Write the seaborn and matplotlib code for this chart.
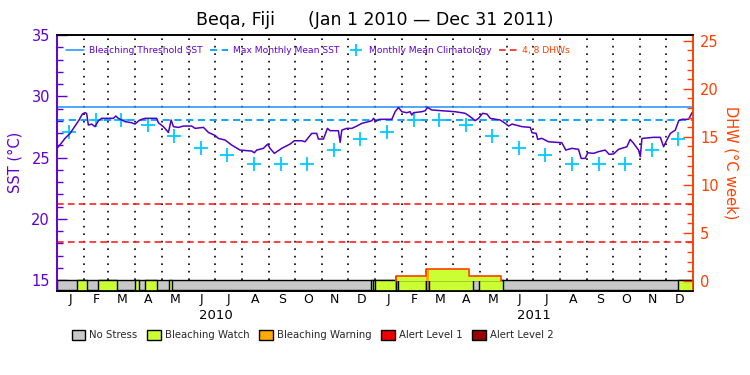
import numpy as np
import pandas as pd
import matplotlib
matplotlib.use("Agg")
import matplotlib.pyplot as plt
import matplotlib.patches as mpatches
from matplotlib.lines import Line2D
import seaborn as sns

# SST trace (days since 2010-01-01, deg C)
sst_days = [0, 1.5, 5.4, 9.2, 15, 20.7, 25.3, 29.1, 32.1, 34, 36, 39.8, 43.6, 47.5, 51.3,
            64.7, 67.4, 70.4, 78.1, 85.7, 89.5, 93.4, 97.2, 101, 114.4, 116.4, 122.1, 127.9,
            131, 133.7, 139.4, 145.2, 154.7, 158.5, 168.1, 173.8, 181.5, 185.2, 192.9, 200.5,
            210.1, 223.5, 226.5, 229.2, 236.9, 241.9, 244.5, 249.5, 257.9, 267.5, 272.4,
            280.9, 284.7, 292.4, 298.1, 300, 305.8, 310.4, 313.5, 323, 325, 326.9, 332.6,
            338.4, 344.1, 349.9, 357.6, 361.4, 363.3, 366, 369.8, 372.8, 384.3, 388.1, 391.9,
            395.8, 401.5, 405.3, 407.2, 409.2, 418.8, 422.6, 425.2, 430.2, 441.7, 457, 468.5,
            474.3, 480, 483.9, 488.5, 493.5, 497.3, 508.8, 514.5, 518.4, 522.2, 533.7, 543.2,
            545.2, 550, 551.8, 556.4, 564.1, 579.4, 584, 590.9, 598.6, 601.6, 606.2, 609.3,
            615.8, 621.5, 629.2, 633.8, 638.8, 644.5, 654.1, 657.9, 661.8, 667.5, 669.5,
            671.4, 684.8, 692.5, 696.3, 699, 704, 709.7, 713.6, 717.4, 725, 728.9, 730]
sst_vals = [25.75, 25.88, 26.21, 26.57, 26.97, 27.57, 28.06, 28.55, 28.66, 28.6, 27.65, 27.73,
            27.52, 28.0, 28.2, 28.2, 28.39, 28.2, 27.93, 27.84, 27.73, 27.98, 28.12, 28.2,
            28.2, 27.84, 27.52, 27.05, 28.06, 27.52, 27.46, 27.57, 27.57, 27.38, 27.46, 27.05,
            26.8, 26.56, 26.43, 26.02, 25.61, 25.53, 25.39, 25.61, 25.75, 26.1, 25.75, 25.34,
            25.75, 26.1, 26.37, 26.37, 26.29, 26.97, 26.97, 26.51, 26.51, 27.38, 27.19, 27.19,
            26.24, 27.24, 27.38, 27.38, 27.57, 27.79, 27.93, 28.01, 28.2, 27.95, 28.12, 28.12,
            28.12, 28.74, 29.09, 28.74, 28.66, 28.74, 28.47, 28.66, 28.74, 28.82, 29.09, 28.88,
            28.82, 28.74, 28.61, 28.33, 28.01, 28.2, 28.61, 28.55, 28.2, 28.06, 27.79, 27.57,
            27.73, 27.52, 27.46, 27.03, 26.97, 26.48, 26.57, 26.29, 26.21, 25.61, 25.75, 25.67,
            24.93, 24.93, 25.39, 25.34, 25.48, 25.61, 25.26, 25.29, 25.67, 25.88, 26.48, 26.16,
            25.61, 25.07, 26.56, 26.65, 26.65, 25.88, 26.29, 26.97, 27.24, 28.01, 28.12, 28.12,
            28.66, 28.66]

# monthly mean climatology, Jan..Dec
clim_vals = [27.1, 28.05, 28.05, 27.65, 26.75, 25.75, 25.2, 24.5, 24.5, 24.5, 25.65, 26.5]
mmm = 28.1
threshold = 29.1
dhw_levels = [4, 8]

# daily stress level bar: start/end day, level (1 = watch, 2 = warning)
stress_start = [23.3, 47.4, 89.9, 101, 128.9, 360.5, 365.5, 389.2, 391.8, 423.7, 427.1, 484.2, 712.6]
stress_end = [34.1, 69.2, 94.5, 115.2, 132.4, 363.2, 389.2, 391.8, 423.7, 427.1, 477.2, 511.7, 730]
stress_level = [1, 1, 1, 1, 1, 1, 1, 1, 1, 2, 1, 1, 1]

# degree heating weeks steps
dhw_start = [389.2, 423.7, 473.4]
dhw_end = [423.7, 473.4, 509.4]
dhw_vals = [0.5, 1.2, 0.5]

month_labels = list("JFMAMJJASOND")
year_labels = ["2010", "2011"]
stress_names = ["No Stress", "Bleaching Watch", "Bleaching Warning", "Alert Level 1", "Alert Level 2"]
stress_colors = ["#c8c8c8", "#ccff33", "#ffaa00", "#ee0000", "#990000"]

purple = "#6000d0"
orange = "#ff4000"

sns.set_theme(style="white")
plt.rcParams["font.family"] = ["DejaVu Sans"]

t0 = pd.Timestamp("2010-01-01")
month_starts = pd.date_range("2010-01-01", "2012-01-01", freq="MS")
ms_days = np.asarray((month_starts - t0).days, dtype=float)
mid_days = (ms_days[:-1] + ms_days[1:]) / 2

fig = plt.figure(figsize=(7.5, 3.75), dpi=100)
ax = fig.add_axes([57 / 750, 1 - 290.5 / 375, 636 / 750, 255.5 / 375])
ax.set_facecolor("white")

# month grid
ax.vlines(ms_days[1:-1], 15, 35, color="black", linestyles=(0, (1, 3.5)), lw=1.2, zorder=1)

# reference lines
ax.axhline(threshold, color="#1e8fff", lw=1.1, zorder=2)
ax.axhline(mmm, color="#00a0ff", lw=1.3, ls=(0, (4, 2.5)), zorder=2)

# SST
sns.lineplot(x=sst_days, y=sst_vals, ax=ax, color="#5000c0", lw=1.1,
             estimator=None, sort=False, zorder=4)

# climatology
clim_days = ms_days[:-1] + 14
ax.plot(clim_days, np.tile(clim_vals, 2), ls="none", marker="+", ms=10, mew=1.3,
        color="#00ccff", zorder=3)

# stress bar
ybar = (14.15, 0.85)
ax.broken_barh([(0, 730)], ybar, facecolor=stress_colors[0], edgecolor="black", lw=1, zorder=5)
segs = [(s, e - s) for s, e in zip(stress_start, stress_end)]
cols = [stress_colors[l] for l in stress_level]
ax.broken_barh(segs, ybar, facecolors=cols, edgecolor="black", lw=1, zorder=6)

ax.set_xlim(0, 730)
ax.set_ylim(14.15, 35)
ax.set_yticks([15, 20, 25, 30, 35])
ax.set_yticks(np.arange(15, 36, 1), minor=True)
ax.tick_params(axis="y", which="major", direction="in", length=7, width=1, colors=purple,
               labelsize=10.5, pad=5, left=True)
ax.tick_params(axis="y", which="minor", direction="in", length=4, width=1, colors=purple, left=True)
ax.set_xticks(mid_days)
ax.set_xticklabels(month_labels * 2)
ax.tick_params(axis="x", length=0, labelsize=9, pad=2, colors="black")
ax.set_ylabel("SST (°C)", color=purple, fontsize=10.5, labelpad=6)
ax.set_xlabel("")
for i, yl in enumerate(year_labels):
    ax.text(182.5 + 365 * i, -0.096, yl, transform=ax.get_xaxis_transform(),
            ha="center", va="center", fontsize=9.5, color="black")

# DHW axis
ax2 = ax.twinx()
ax2.set_ylim(-1.0, 25.6)
ax2.bar(dhw_start, dhw_vals, width=np.subtract(dhw_end, dhw_start), align="edge",
        color=stress_colors[1], lw=0, zorder=2)
for s, e, l in zip(stress_start, stress_end, stress_level):
    if l == 2:
        h = max(v for a, b, v in zip(dhw_start, dhw_end, dhw_vals) if a < e and b > s)
        ax2.bar(s, h, width=e - s, align="edge", color=stress_colors[2], lw=0, zorder=2)
xs = [dhw_start[0]] + dhw_start + [dhw_end[-1]]
ys = [0] + dhw_vals + [0]
ax2.step(xs, ys, where="post", color=orange, lw=1.2, zorder=3)
ax2.vlines(dhw_start[0], 0, dhw_vals[0], color=orange, lw=1.2, zorder=3)
for lv in dhw_levels:
    ax2.axhline(lv, color="#ff2020", lw=1.2, ls=(0, (4, 2.5)), zorder=2)
ax2.set_yticks([0, 5, 10, 15, 20, 25])
ax2.set_yticks(np.arange(0, 26, 1), minor=True)
ax2.tick_params(axis="y", which="major", direction="in", length=7, width=1, colors=orange,
                labelsize=10.5, pad=5, right=True)
ax2.tick_params(axis="y", which="minor", direction="in", length=4, width=1, colors=orange, right=True)
ax2.set_ylabel("DHW (°C week)", color=orange, fontsize=10.5, rotation=270, labelpad=14)
ax2.grid(False)
ax.grid(False)

for a in (ax, ax2):
    a.spines["top"].set_color("black")
    a.spines["bottom"].set_color("black")
    a.spines["left"].set_color(purple)
    a.spines["right"].set_color(orange)
    for sp in a.spines.values():
        sp.set_linewidth(1.2)

# top legend
handles = [Line2D([], [], color="#1e8fff", lw=1.1),
           Line2D([], [], color="#00a0ff", lw=1.3, ls=(0, (4, 2.5))),
           Line2D([], [], color="#00ccff", ls="none", marker="+", ms=8, mew=1.3),
           Line2D([], [], color="#ff2020", lw=1.2, ls=(0, (4, 2.5)))]
labels = ["Bleaching Threshold SST", "Max Monthly Mean SST", "Monthly Mean Climatology", "4, 8 DHWs"]
leg = ax2.legend(handles, labels, loc="center", bbox_to_anchor=(0.41, 0.9386), ncol=4,
                 frameon=False, fontsize=6.6, handlelength=2.0, columnspacing=0.8,
                 handletextpad=0.5, borderpad=0)
for t, c in zip(leg.get_texts(), [purple, purple, purple, orange]):
    t.set_color(c)

# stress legend
patches = [mpatches.Patch(facecolor=c, edgecolor="black", lw=1) for c in stress_colors]
fig.legend(patches, stress_names, loc="center", bbox_to_anchor=(312.5 / 750, 1 - 335 / 375),
           ncol=5, frameon=False, fontsize=7.3, handlelength=1.3, handleheight=1.1,
           columnspacing=1.0, handletextpad=0.4, borderpad=0)

fig.text(0.5, 1 - 20 / 375, "Beqa, Fiji      (Jan 1 2010 \u2014 Dec 31 2011)",
         ha="center", va="center", fontsize=12.5, color="black")

fig.savefig("out.png", dpi=100, facecolor="white")
